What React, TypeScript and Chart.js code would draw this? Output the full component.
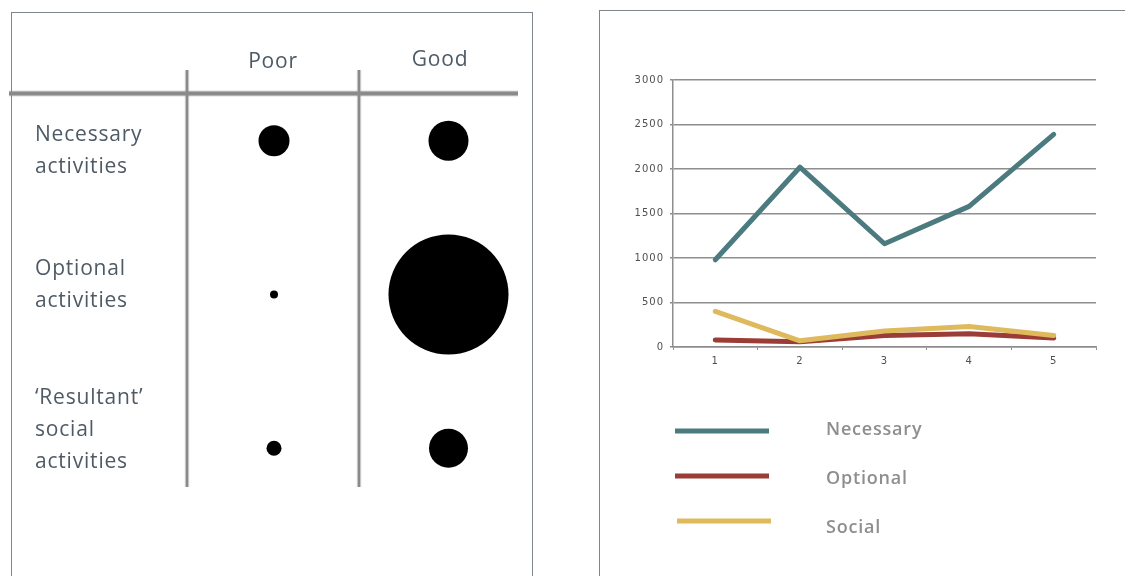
import React, { useEffect, useRef } from 'react';
import { Chart, registerables } from 'chart.js';

Chart.register(...registerables);

// Activity diagram: dot size per activity type under poor / good outdoor conditions
const qualityColumns = ['Poor', 'Good'];
const activityRowLabels = [
  ['Necessary', 'activities'],
  ['Optional', 'activities'],
  ['\u2018Resultant\u2019', 'social', 'activities'],
];
const poorDotRadius = [15.5, 4, 7.5];
const goodDotRadius = [20, 60, 19.5];

// Activity counts over five observations
const periods = ['1', '2', '3', '4', '5'];
const necessaryCounts = [980, 2020, 1160, 1580, 2390];
const optionalCounts = [80, 60, 130, 150, 100];
const socialCounts = [400, 70, 180, 230, 130];
const seriesNames = ['Necessary', 'Optional', 'Social'];
const seriesColors = ['#4b7a7f', '#9c3c37', '#dfba5c'];
const countAxisMax = 3000;
const countAxisStep = 500;

const LABEL_FONT = '"Open Sans", "Noto Sans", sans-serif';

// Table rules, column headings and row labels behind the dots
const activityTablePlugin = {
  id: 'activityTable',
  beforeDatasetsDraw(chart: any) {
    const ctx = chart.ctx as CanvasRenderingContext2D;
    ctx.save();
    const rule = (x1: number, y1: number, x2: number, y2: number, w: number) => {
      ctx.lineCap = 'butt';
      ctx.strokeStyle = 'rgba(150,150,150,0.35)';
      ctx.lineWidth = w + 2;
      ctx.beginPath();
      ctx.moveTo(x1, y1);
      ctx.lineTo(x2, y2);
      ctx.stroke();
      ctx.strokeStyle = '#8a8a8a';
      ctx.lineWidth = w;
      ctx.beginPath();
      ctx.moveTo(x1, y1);
      ctx.lineTo(x2, y2);
      ctx.stroke();
    };
    rule(9, 93.5, 518, 93.5, 4);
    rule(187, 70, 187, 487, 2.5);
    rule(359, 70, 359, 487, 2.5);

    ctx.fillStyle = '#4e5a65';
    ctx.font = `400 21px ${LABEL_FONT}`;
    (ctx as any).letterSpacing = '0.8px';
    ctx.textBaseline = 'alphabetic';
    ctx.textAlign = 'center';
    const headX = [273, 440];
    const headBase = [68, 66];
    qualityColumns.forEach((name, i) => ctx.fillText(name, headX[i], headBase[i]));

    ctx.textAlign = 'left';
    const rowBase = [141, 275, 403.5];
    activityRowLabels.forEach((lines, r) => {
      lines.forEach((line, k) => ctx.fillText(line, 35, rowBase[r] + k * 32));
    });
    ctx.restore();
  },
};

// Wider tracking for the axis numerals
const tickTrackingPlugin = {
  id: 'tickTracking',
  beforeLayout(chart: any) {
    (chart.ctx as any).letterSpacing = '1px';
  },
  beforeDraw(chart: any) {
    (chart.ctx as any).letterSpacing = '1px';
  },
};

// Key below the line chart: a long swatch and the series name for each dataset
const seriesKeyPlugin = {
  id: 'seriesKey',
  afterDraw(chart: any) {
    const ctx = chart.ctx as CanvasRenderingContext2D;
    ctx.save();
    chart.data.datasets.forEach((ds: any, i: number) => {
      const y = 431 + i * 45;
      const shift = i === 2 ? 2 : 0;
      ctx.strokeStyle = ds.borderColor;
      ctx.lineWidth = 5;
      ctx.lineCap = 'butt';
      ctx.beginPath();
      ctx.moveTo(75 + shift, y);
      ctx.lineTo(169 + shift, y);
      ctx.stroke();
      ctx.fillStyle = '#8e8e8e';
      ctx.font = `600 18px ${LABEL_FONT}`;
      (ctx as any).letterSpacing = '0.8px';
      ctx.textAlign = 'left';
      ctx.textBaseline = 'alphabetic';
      ctx.fillText(ds.label, 226, 435 + i * 49);
    });
    ctx.restore();
  },
};

export default function App() {
  const dotRef = useRef<HTMLCanvasElement>(null);
  const lineRef = useRef<HTMLCanvasElement>(null);

  useEffect(() => {
    let dotChart: Chart | null = null;
    let lineChart: Chart | null = null;
    let cancelled = false;

    const build = () => {
      if (cancelled || !dotRef.current || !lineRef.current) return;

      dotChart = new Chart(dotRef.current, {
        type: 'bubble',
        data: {
          datasets: qualityColumns.map((col, c) => ({
            label: col,
            data: activityRowLabels.map((_, r) => ({
              x: c + 1,
              y: r,
              r: (c === 0 ? poorDotRadius : goodDotRadius)[r],
            })),
            backgroundColor: '#000000',
            borderWidth: 0,
            hoverRadius: 0,
            clip: false as any,
          })),
        },
        options: {
          animation: false,
          responsive: false,
          events: [],
          layout: {
            autoPadding: false,
            padding: { left: 186.75, right: 24.25, top: 63.9, bottom: 50.9 },
          },
          plugins: { legend: { display: false }, tooltip: { enabled: false } },
          scales: {
            x: { type: 'linear', display: false, min: 0.5, max: 2.5 },
            y: { type: 'linear', display: false, min: -0.5, max: 2.5, reverse: true },
          },
        },
        plugins: [activityTablePlugin],
      });

      const gridGray = '#8e8e8e';
      const tickFont = { family: '"DejaVu Sans", sans-serif', size: 10 };
      lineChart = new Chart(lineRef.current, {
        type: 'line',
        data: {
          labels: periods,
          datasets: [necessaryCounts, optionalCounts, socialCounts].map((vals, i) => ({
            label: seriesNames[i],
            data: vals,
            borderColor: seriesColors[i],
            backgroundColor: seriesColors[i],
            borderWidth: 5,
            borderCapStyle: 'round' as const,
            borderJoinStyle: 'round' as const,
            pointRadius: 0,
            tension: 0,
            fill: false,
            order: 2 - i,
          })),
        },
        options: {
          animation: false,
          responsive: false,
          events: [],
          layout: { autoPadding: false, padding: { left: 0, right: 29, top: 80, bottom: 0 } },
          plugins: { legend: { display: false }, tooltip: { enabled: false } },
          scales: {
            x: {
              type: 'category',
              offset: true,
              grid: { offset: true, drawOnChartArea: false, drawTicks: true, tickLength: 3, color: gridGray, lineWidth: 1 },
              border: { display: true, color: gridGray, width: 1.5 },
              ticks: { color: '#505050', font: tickFont, padding: 5, maxRotation: 0, autoSkip: false },
              afterFit: (s: any) => {
                s.height = 229;
              },
            },
            y: {
              type: 'linear',
              min: 0,
              max: countAxisMax,
              ticks: {
                stepSize: countAxisStep,
                color: '#505050',
                font: tickFont,
                padding: 6,
                callback: (v: any) => String(v),
              },
              grid: { color: gridGray, lineWidth: 1.5, tickLength: 3, drawTicks: true },
              border: { display: true, color: gridGray, width: 1.5 },
              afterFit: (s: any) => {
                s.width = 73;
              },
            },
          },
        },
        plugins: [tickTrackingPlugin, seriesKeyPlugin],
      });
    };

    const fonts = (document as any).fonts;
    if (fonts && fonts.load) {
      Promise.all([
        fonts.load(`400 21px ${LABEL_FONT}`),
        fonts.load(`600 18px ${LABEL_FONT}`),
        fonts.load('10px "DejaVu Sans"'),
      ])
        .catch(() => null)
        .then(build);
    } else {
      build();
    }

    return () => {
      cancelled = true;
      dotChart?.destroy();
      lineChart?.destroy();
    };
  }, []);

  return (
    <div
      style={{
        position: 'absolute',
        left: 0,
        top: 0,
        width: 1125,
        height: 576,
        overflow: 'hidden',
        background: '#ffffff',
      }}
    >
      <div
        style={{
          position: 'absolute',
          left: 11,
          top: 12,
          width: 520,
          height: 620,
          borderLeft: '1px solid #7d858d',
          borderTop: '1px solid #7d858d',
          borderRight: '1px solid #7d858d',
        }}
      />
      <div
        style={{
          position: 'absolute',
          left: 599,
          top: 10,
          width: 620,
          height: 620,
          borderLeft: '1px solid #7d858d',
          borderTop: '1px solid #7d858d',
        }}
      />
      <canvas
        ref={dotRef}
        width={560}
        height={576}
        style={{ position: 'absolute', left: 0, top: 0, width: 560, height: 576 }}
      />
      <canvas
        ref={lineRef}
        width={525}
        height={576}
        style={{ position: 'absolute', left: 600, top: 0, width: 525, height: 576 }}
      />
    </div>
  );
}
